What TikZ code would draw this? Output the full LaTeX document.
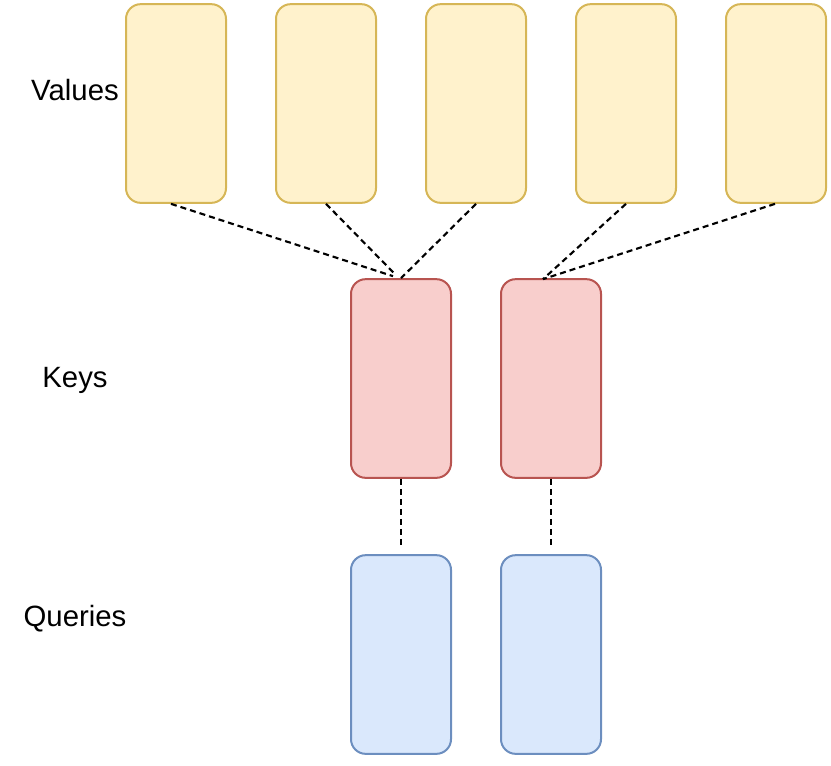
\documentclass[tikz,border=0pt]{standalone}
\usepackage{fontspec}
\setmainfont{Liberation Sans}
\usetikzlibrary{calc}
\definecolor{vfill}{HTML}{FFF2CC}
\definecolor{vdraw}{HTML}{D6B656}
\definecolor{kfill}{HTML}{F8CECC}
\definecolor{kdraw}{HTML}{B85450}
\definecolor{qfill}{HTML}{DAE8FC}
\definecolor{qdraw}{HTML}{6C8EBF}
\tikzset{
  cell/.style={rectangle, rounded corners=11pt, line width=1.5pt,
    minimum width=75pt, minimum height=149pt, inner sep=0pt},
  vcell/.style={cell, fill=vfill, draw=vdraw},
  kcell/.style={cell, fill=kfill, draw=kdraw},
  qcell/.style={cell, fill=qfill, draw=qdraw},
  lab/.style={font=\fontsize{22}{26}\selectfont, inner sep=0pt, anchor=base},
  link/.style={line width=1.6pt, dash pattern=on 4.5pt off 3pt}
}
\begin{document}
\begin{tikzpicture}[x=0.75pt, y=-0.75pt]
\useasboundingbox (0,0) rectangle (831,765);
% values
\node[vcell] (v1) at (176,103.5) {};
\node[vcell] (v2) at (326,103.5) {};
\node[vcell] (v3) at (476,103.5) {};
\node[vcell] (v4) at (626,103.5) {};
\node[vcell] (v5) at (776,103.5) {};
% keys
\node[kcell] (k1) at (401,378.5) {};
\node[kcell] (k2) at (551,378.5) {};
% queries
\node[qcell] (q1) at (401,654.5) {};
\node[qcell] (q2) at (551,654.5) {};
% labels
\node[lab] (lv) at (75,100) {Values};
\node[lab] (lk) at (75,387) {Keys};
\node[lab] (lq) at (75,626) {Queries};
% connectors
\draw[link] ($(v1.south)+(-5,0)$) -- ($(k1.north)+(-8,-2)$);
\draw[link] (v2.south) -- ($(k1.north)+(-5,-3)$);
\draw[link] (v3.south) -- (k1.north);
\draw[link] (v4.south) -- ($(k2.north)+(-8,1)$);
\draw[link] ($(v5.south)+(-1,0)$) -- ($(k2.north)+(-8,1)$);
\draw[link] (k1.south) -- ($(q1.north)+(0,-9)$);
\draw[link] (k2.south) -- ($(q2.north)+(0,-9)$);
\end{tikzpicture}
\end{document}
